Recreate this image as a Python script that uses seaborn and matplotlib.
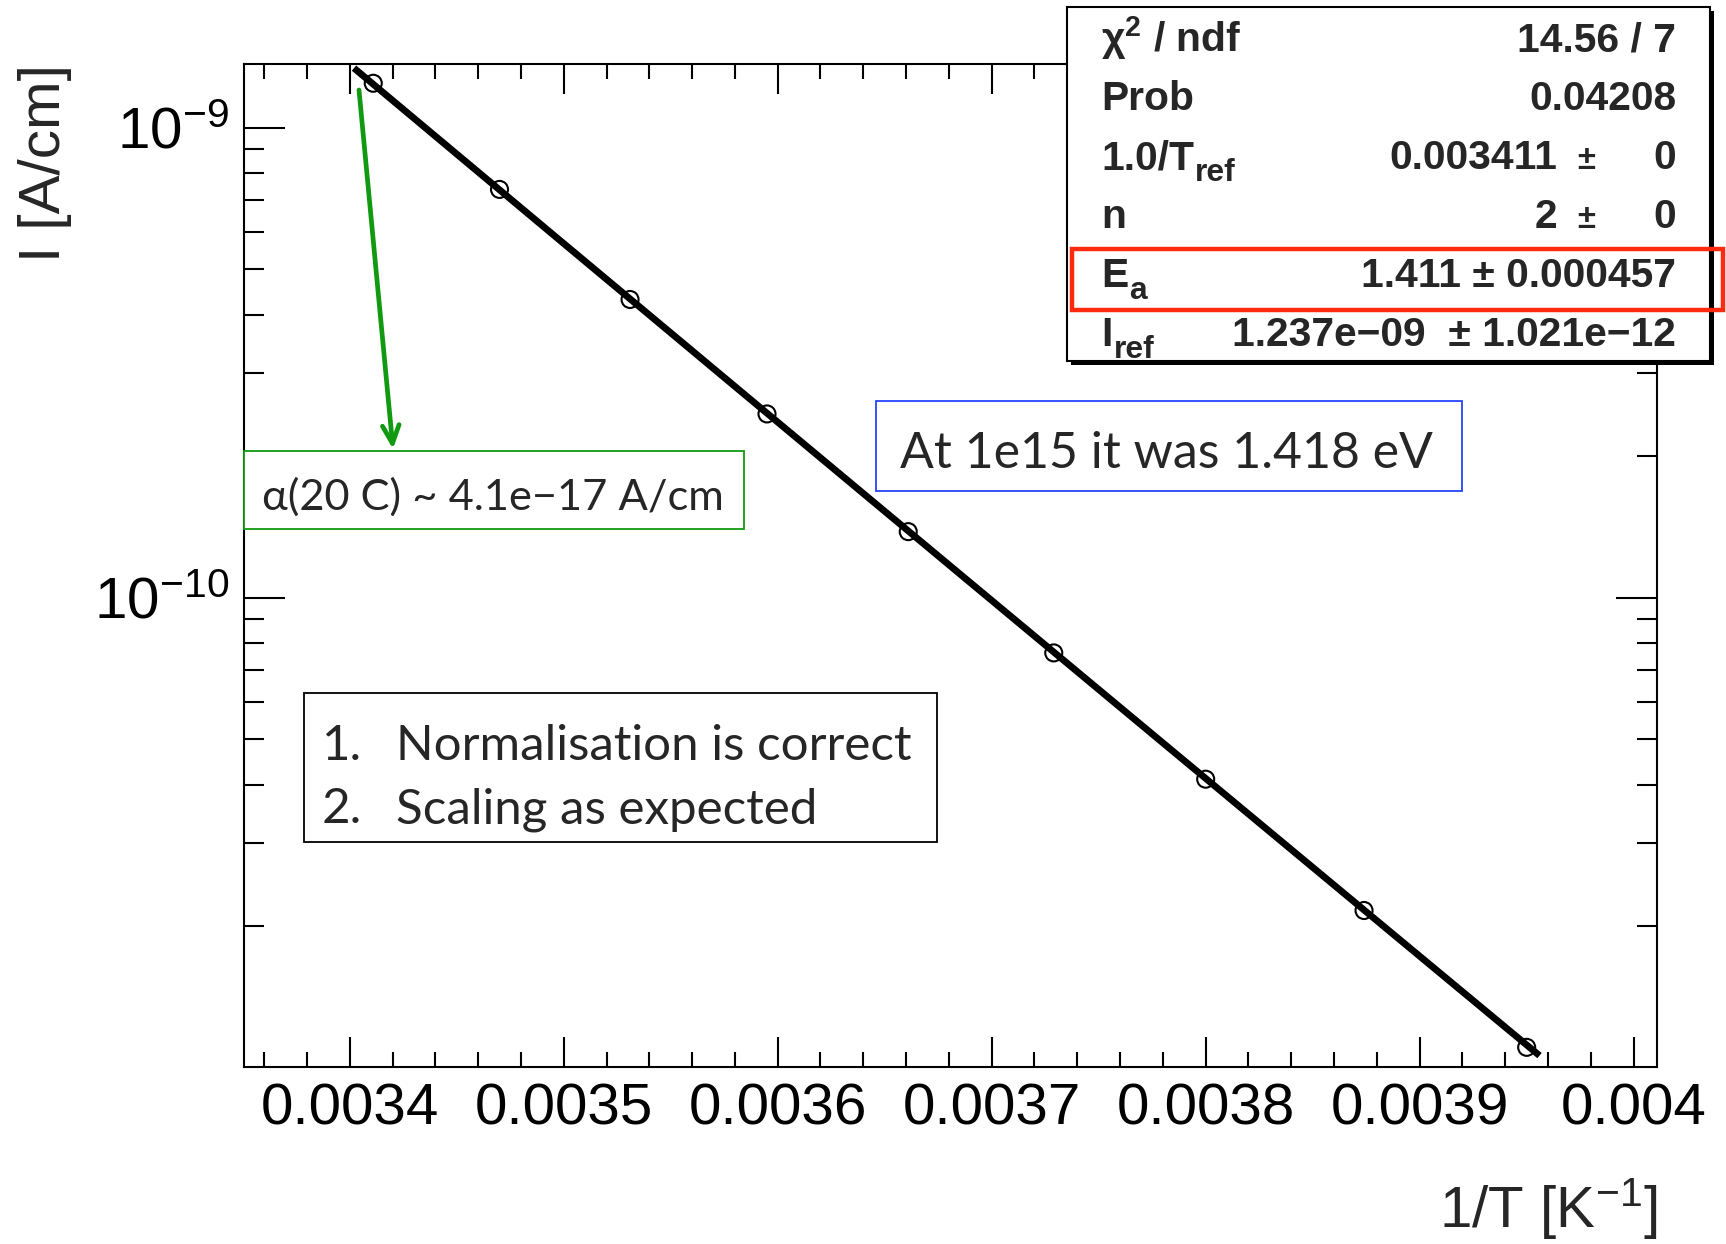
import numpy as np
import matplotlib
matplotlib.use("Agg")
import matplotlib.pyplot as plt
from matplotlib import ticker
from matplotlib.patches import Rectangle, FancyArrowPatch
import seaborn as sns

# Leakage current (per cm) measured at each inverse temperature
inv_temp = [0.003411, 0.003470, 0.003531, 0.003595, 0.003661,
            0.003729, 0.003800, 0.003874, 0.003950]
current = [1.243e-9, 7.39e-10, 4.31e-10, 2.46e-10, 1.382e-10,
           7.63e-11, 4.11e-11, 2.16e-11, 1.105e-11]

x_tick_values = [0.0034, 0.0035, 0.0036, 0.0037, 0.0038, 0.0039, 0.0040]
x_tick_labels = ["0.0034", "0.0035", "0.0036", "0.0037", "0.0038", "0.0039", "0.004"]
y_tick_values = [1e-10, 1e-9]
y_tick_labels = [r"$\mathregular{10^{-10}}$", r"$\mathregular{10^{-9}}$"]

# Fit model: I = I_ref * (T/T_ref)^n * exp(-E_a / (2 k) * (1/T - 1/T_ref))
fit_chi2 = 14.56
fit_ndf = 7
fit_prob = 0.04208
fit_inv_t_ref = 0.003411
fit_n = 2
fit_e_a = 1.411
fit_e_a_err = 0.000457
fit_i_ref = 1.237e-9
fit_i_ref_err = 1.021e-12
fit_range = (0.003402, 0.003956)
K_B = 8.617e-5  # eV / K

note_alpha = "α(20 C) ~ 4.1e−17 A/cm"
note_prev = "At 1e15 it was 1.418 eV"
note_items = ["Normalisation is correct", "Scaling as expected"]

# ---------------------------------------------------------------- style
sns.set_style("white")
plt.rcParams["font.family"] = ["Liberation Sans", "DejaVu Sans"]
plt.rcParams["mathtext.fontset"] = "custom"
plt.rcParams["mathtext.rm"] = "Liberation Sans"
plt.rcParams["mathtext.it"] = "Liberation Sans:italic"
plt.rcParams["mathtext.bf"] = "Liberation Sans:bold"

W, H = 1726, 1244
fig = plt.figure(figsize=(W / 100, H / 100), dpi=100)
fig.patch.set_facecolor("white")

# axes frame in pixel units (left, top, right, bottom)
AX_L, AX_T, AX_R, AX_B = 244, 64, 1657, 1067
ax = fig.add_axes([AX_L / W, 1 - AX_B / H, (AX_R - AX_L) / W, (AX_B - AX_T) / H])
ax.set_facecolor("white")


def fx(px):
    return px / W


def fy(py):
    return 1 - py / H


# ---------------------------------------------------------------- data + fit
ax.set_yscale("log")
sns.scatterplot(x=inv_temp, y=current, ax=ax, marker="o", s=150,
                facecolors="none", edgecolor="black", linewidth=1.5, zorder=3)
ax.collections[-1].set_facecolor("none")

xs = np.linspace(fit_range[0], fit_range[1], 400)
fit_curve = fit_i_ref * (fit_inv_t_ref / xs) ** fit_n * np.exp(
    -fit_e_a / (2 * K_B) * (xs - fit_inv_t_ref))
sns.lineplot(x=xs, y=fit_curve, ax=ax, color="black", linewidth=4.9,
             solid_capstyle="butt", zorder=4, sort=False)

ax.set_xlim(0.0033506, 0.0040109)
ax.set_ylim(1.0035e-11, 1.366e-9)

# ---------------------------------------------------------------- axes
ax.xaxis.set_major_locator(ticker.FixedLocator(x_tick_values))
ax.xaxis.set_major_formatter(ticker.FixedFormatter(x_tick_labels))
ax.xaxis.set_minor_locator(ticker.MultipleLocator(0.00002))
ax.yaxis.set_major_locator(ticker.FixedLocator(y_tick_values))
ax.yaxis.set_major_formatter(ticker.FixedFormatter(y_tick_labels))
ax.yaxis.set_minor_locator(ticker.LogLocator(base=10, subs=np.arange(2, 10)))
ax.yaxis.set_minor_formatter(ticker.NullFormatter())

for s in ax.spines.values():
    s.set_linewidth(1.5)
    s.set_color("black")

ax.tick_params(which="both", direction="in", top=True, right=True,
               bottom=True, left=True,
               width=1.5, color="black", labelsize=42, labelcolor="black")
ax.tick_params(axis="x", which="major", length=21.6, pad=11)
ax.tick_params(axis="x", which="minor", length=10.8)
ax.tick_params(axis="y", which="major", length=29.5, pad=11)
ax.tick_params(axis="y", which="minor", length=14.4)
ax.grid(False)

ax.set_xlabel(r"1/T [K$^{\mathregular{-1}}$]", fontsize=42, loc="right")
ax.xaxis.set_label_coords(1.0, (AX_B - 1176) / (AX_B - AX_T))
ax.set_ylabel("I [A/cm]", fontsize=42, loc="top")
ax.yaxis.set_label_coords((72 - AX_L) / (AX_R - AX_L), 1.0)

renderer = fig.canvas.get_renderer()


def fit_size(text, target_px, **kw):
    t = fig.text(0, 0, text, fontsize=30, **kw)
    w = t.get_window_extent(renderer).width
    t.remove()
    return 30 * target_px / w


# ---------------------------------------------------------------- fit statistics box
BOX_L, BOX_T, BOX_R, BOX_B = 1067, 7, 1710, 361
fig.add_artist(Rectangle((fx(BOX_L + 4), fy(BOX_B + 4)), (BOX_R - BOX_L) / W,
                         (BOX_B - BOX_T) / H, transform=fig.transFigure,
                         facecolor="black", edgecolor="none", zorder=5))
fig.add_artist(Rectangle((fx(BOX_L), fy(BOX_B)), (BOX_R - BOX_L) / W,
                         (BOX_B - BOX_T) / H, transform=fig.transFigure,
                         facecolor="white", edgecolor="black", linewidth=1.5, zorder=6))

# (main label, subscript)
stat_labels = [("χ$^{\\mathbf{2}}$ / ndf", ""), ("Prob", ""), ("1.0/T", "ref"),
               ("n", ""), ("E", "a"), ("I", "ref")]
i_ref_txt = f"{fit_i_ref:.3e}".replace("-", "−")
i_ref_err_txt = f"{fit_i_ref_err:.3e}".replace("-", "−")
stat_values = [
    f"{fit_chi2:.2f} / {fit_ndf}",
    f"{fit_prob:.4g}",
    (f"{fit_inv_t_ref:.4g}", "±", "0"),
    (f"{fit_n}", "±", "0"),
    f"{fit_e_a:.4g} ± {fit_e_a_err:.3g}",
    f"{i_ref_txt}  ± {i_ref_err_txt}",
]

bold = dict(fontweight="bold", family=["Liberation Sans", "DejaVu Sans"])
stat_fs = 0.5 * (fit_size(stat_values[0], 159, **bold) + fit_size(stat_values[5], 443, **bold))
em_px = stat_fs * 100 / 72
row_h = (BOX_B - BOX_T) / 6
for i, ((lab, sub), val) in enumerate(zip(stat_labels, stat_values)):
    base = BOX_T + (i + 0.5) * row_h + 0.36 * em_px
    t = fig.text(fx(1101), fy(base), lab, fontsize=stat_fs, ha="left", va="baseline",
                 zorder=7, **bold)
    if sub:
        x_end = t.get_window_extent(renderer).x1
        fig.text(fx(x_end + 1), fy(base + 0.28 * em_px), sub, fontsize=stat_fs * 0.78,
                 ha="left", va="baseline", zorder=7, **bold)
    if isinstance(val, tuple):
        fig.text(fx(1557), fy(base), val[0], fontsize=stat_fs, ha="right",
                 va="baseline", zorder=7, **bold)
        fig.text(fx(1586), fy(base), val[1], fontsize=stat_fs * 0.8, ha="center",
                 va="baseline", zorder=7, **bold)
        fig.text(fx(1676), fy(base), val[2], fontsize=stat_fs, ha="right",
                 va="baseline", zorder=7, **bold)
    else:
        fig.text(fx(1676), fy(base), val, fontsize=stat_fs, ha="right",
                 va="baseline", zorder=7, **bold)

# highlight of the activation energy row
fig.add_artist(Rectangle((fx(1072), fy(310)), (1723 - 1072) / W, (310 - 249) / H,
                         transform=fig.transFigure, facecolor="none",
                         edgecolor="#fe2a10", linewidth=3.2, zorder=8))

# ---------------------------------------------------------------- notes
note_family = ["Lato", "Open Sans", "DejaVu Sans"]
note_fs = fit_size(note_prev, 533, family=note_family)
alpha_fs = fit_size(note_alpha, 462, family=note_family)
item_fs = fit_size(note_items[0], 515, family=note_family)


def framed(x0, y0, x1, y1, color, lw=1.3):
    fig.add_artist(Rectangle((fx(x0), fy(y1)), (x1 - x0) / W, (y1 - y0) / H,
                             transform=fig.transFigure, facecolor="white",
                             edgecolor=color, linewidth=lw, zorder=5))


GREEN = "#119a11"
framed(244, 451, 744, 529, GREEN)
fig.text(fx(262), fy(510), note_alpha, fontsize=alpha_fs, family=note_family,
         ha="left", va="baseline", zorder=7)

framed(876, 401, 1462, 491, "#2444ff")
fig.text(fx(900), fy(468), note_prev, fontsize=note_fs, family=note_family,
         ha="left", va="baseline", zorder=7)

framed(304, 693, 937, 842, "black")
for k, (item, base) in enumerate(zip(note_items, [760, 823])):
    fig.text(fx(322), fy(base), f"{k + 1}.", fontsize=item_fs, family=note_family,
             ha="left", va="baseline", zorder=7)
    fig.text(fx(396), fy(base), item, fontsize=item_fs, family=note_family,
             ha="left", va="baseline", zorder=7)

fig.add_artist(FancyArrowPatch((fx(359), fy(90)), (fx(393), fy(449)),
                               transform=fig.transFigure,
                               arrowstyle="->,head_length=13,head_width=6",
                               mutation_scale=1, shrinkA=0, shrinkB=0,
                               color=GREEN, linewidth=3.4, zorder=8))

fig.savefig("out.png", dpi=100)
